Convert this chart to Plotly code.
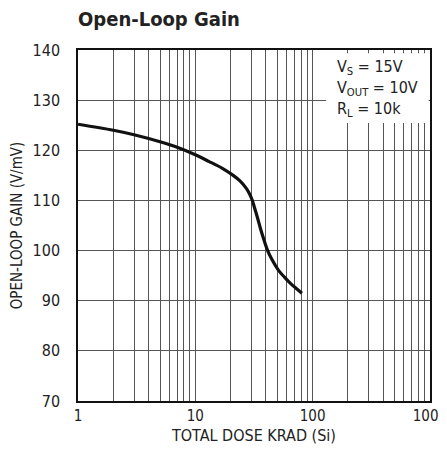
import plotly.graph_objects as go

dose = [1, 2, 3, 5, 7, 10, 13, 17, 21, 24, 27, 29, 30.5, 32, 34, 36, 38, 41, 45, 51, 58, 65, 73, 81]
gain = [125.2, 124.0, 123.1, 121.7, 120.6, 119.1, 117.8, 116.4, 115.0, 113.9, 112.5, 111.3, 110.1, 108.5, 106.4, 104.3, 102.5, 100.2, 98.2, 96.1, 94.6, 93.4, 92.4, 91.5]

y_ticks = [70, 80, 90, 100, 110, 120, 130, 140]
x_grid = [m * d for d in (1, 10, 100) for m in range(1, 10)] + [1000]
x_labels = {1: "1", 10: "10", 100: "100", 1000: "1000"}

FONT = "DejaVu Sans Condensed, Liberation Sans Narrow, Arial Narrow, sans-serif"

W, H = 439, 442  # page body has an 8px margin on every side; avoid scrollbars

fig = go.Figure()
fig.add_trace(go.Scatter(x=dose, y=gain, mode="lines",
                         line=dict(color="#111", width=3.2, shape="spline", smoothing=1.0),
                         showlegend=False, hoverinfo="skip"))

fig.update_layout(
    width=W, height=H,
    margin=dict(l=70, r=17, t=42, b=49),
    paper_bgcolor="white", plot_bgcolor="white",
    font=dict(family=FONT, color="#222", size=16),
    title=dict(text="<b>Open-Loop Gain</b>", x=70/W, xanchor="left",
               y=1-11/H, yanchor="middle",
               font=dict(family=FONT, size=20, color="#222")),
    xaxis=dict(type="log", range=[-0.0005, 3.0005], automargin=False,
               tickvals=x_grid, ticktext=[x_labels.get(v, "") for v in x_grid],
               ticklabeloverflow="allow",
               showgrid=True, gridcolor="#555", gridwidth=1.2,
               showline=True, linecolor="#111", linewidth=1.5, mirror=True,
               ticks="", tickfont=dict(size=15),
               title=dict(text="TOTAL DOSE KRAD (Si)", font=dict(size=16), standoff=6),
               zeroline=False),
    yaxis=dict(range=[70, 140], tickvals=y_ticks, automargin=False,
               showgrid=True, gridcolor="#555", gridwidth=1.2,
               showline=True, linecolor="#111", linewidth=1.5, mirror=True,
               ticks="", ticklabelstandoff=13, tickfont=dict(size=16),
               title=dict(text="OPEN-LOOP GAIN (V/mV)", font=dict(size=15), standoff=10),
               zeroline=False),
)

fig.add_shape(type="rect", xref="paper", yref="paper",
              x0=0.705, x1=0.996, y0=0.792, y1=0.991,
              fillcolor="white", line=dict(width=0), layer="above")

fig.add_annotation(xref="paper", yref="paper", x=0.73, y=0.985,
                   xanchor="left", yanchor="top", align="left", showarrow=False,
                   text="V<sub>S</sub> = 15V<br>V<sub>OUT</sub> = 10V<br>R<sub>L</sub> = 10k",
                   font=dict(family=FONT, size=16, color="#222"))

fig.write_html("out.html")
